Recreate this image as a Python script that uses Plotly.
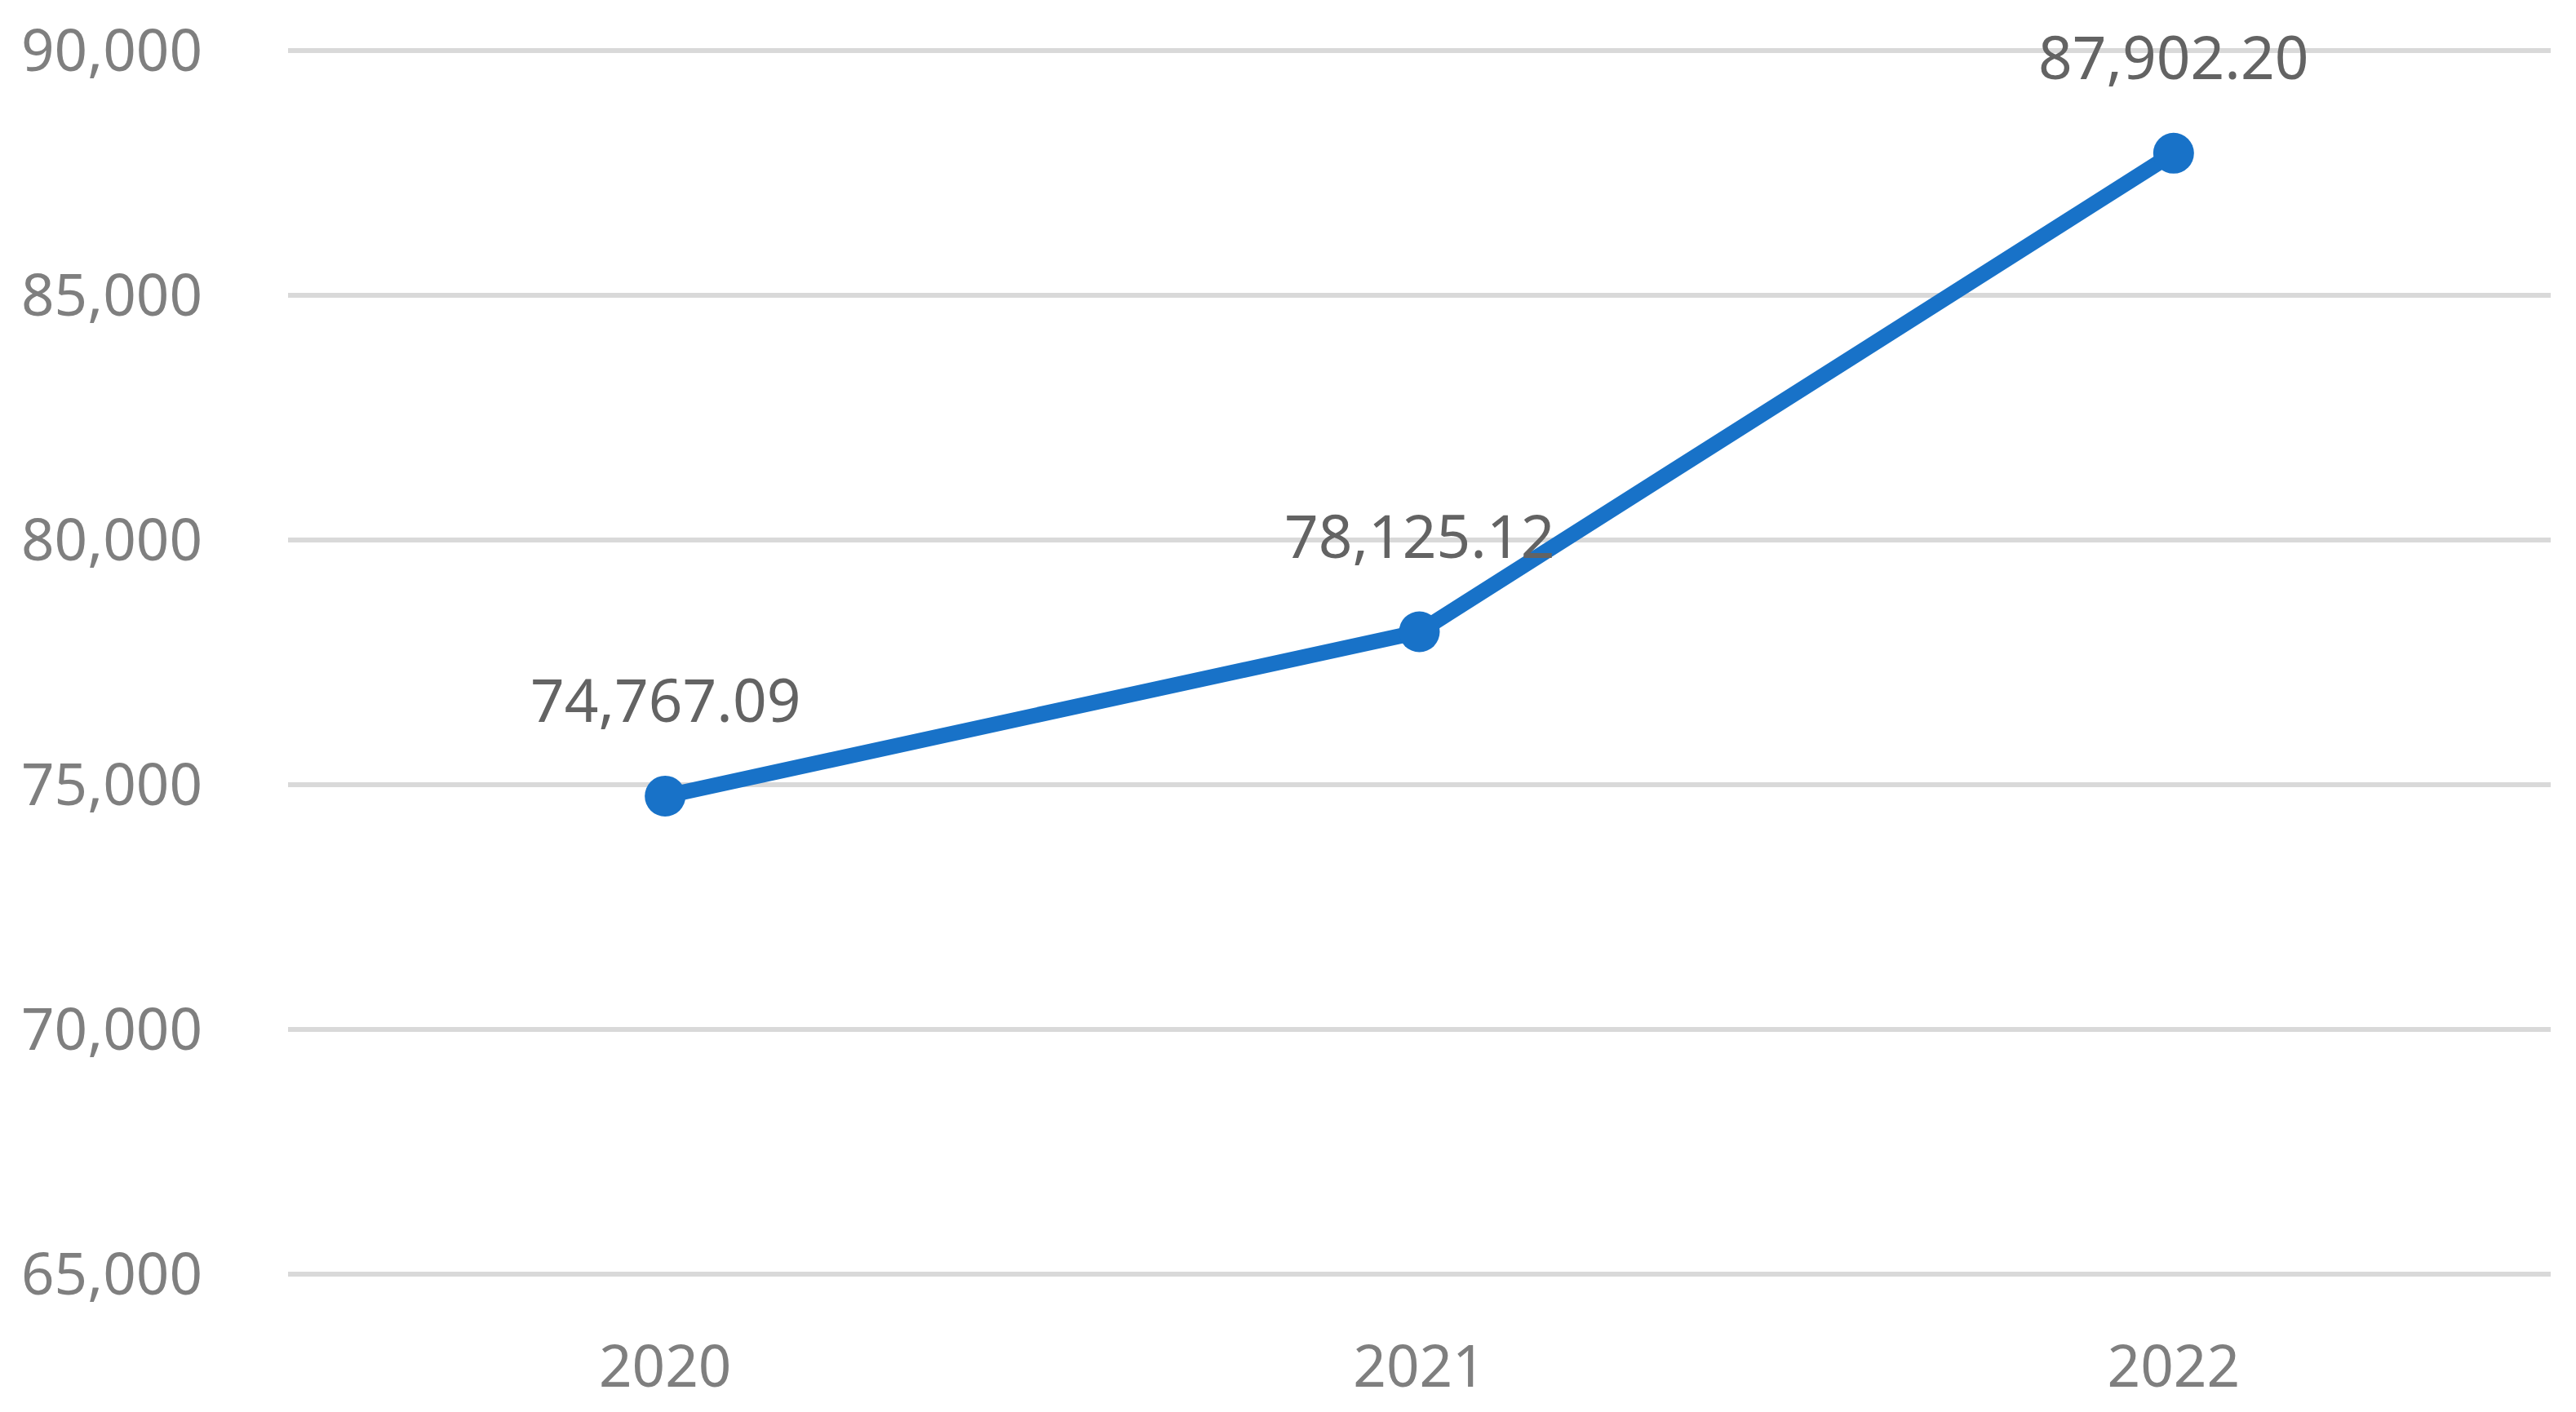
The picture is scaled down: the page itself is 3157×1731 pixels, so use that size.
import plotly.graph_objects as go

# 数据
years = ["2020", "2021", "2022"]
values = [74767.09, 78125.12, 87902.20]
y_ticks = [65000, 70000, 75000, 80000, 85000, 90000]

LINE_COLOR = "#1872C8"
FONT = "Noto Sans"

fig = go.Figure()
fig.add_trace(go.Scatter(
    x=years,
    y=values,
    mode="lines+markers",
    line=dict(color=LINE_COLOR, width=19),
    marker=dict(size=50, color=LINE_COLOR),
    showlegend=False,
    hoverinfo="skip",
))

# 数据标签 (分类轴上用索引定位)
for i, v in enumerate(values):
    fig.add_annotation(
        x=i, y=v, text=f"{v:,.2f}",
        showarrow=False, yshift=119,
        font=dict(family=FONT, size=73, color="#636363"),
    )

# 页面 body 默认有 8px 边距，尺寸相应缩小；
# 纵轴两端各留 2px，使 65,000 和 90,000 的网格线也能画出来
fig.update_layout(
    width=3149,
    height=1723,
    margin=dict(l=345, r=31, t=52, b=167),
    paper_bgcolor="white",
    plot_bgcolor="white",
    font=dict(family=FONT, size=71, color="#7F7F7F"),
)
fig.update_xaxes(
    type="category",
    range=[-0.5, 2.5],
    automargin=False,
    showgrid=False,
    showline=False,
    ticks="",
    ticklabelstandoff=64,
    tickfont=dict(family=FONT, size=71, color="#7F7F7F"),
)
fig.update_yaxes(
    range=[64966.67, 90033.33],
    automargin=False,
    tickvals=y_ticks,
    tickformat=",d",
    showgrid=True,
    gridcolor="#D9D9D9",
    gridwidth=6,
    zeroline=False,
    showline=False,
    ticks="",
    ticklabelstandoff=104,
    tickfont=dict(family=FONT, size=71, color="#7F7F7F"),
)

fig.write_html("out.html")
